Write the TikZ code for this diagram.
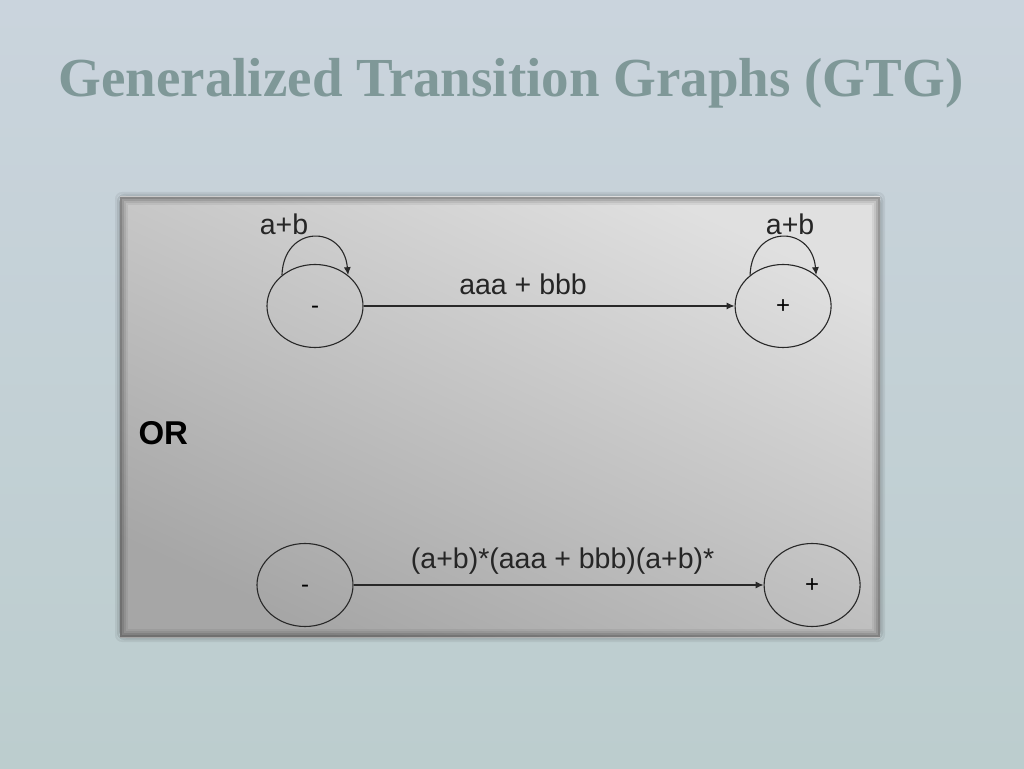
\documentclass[tikz,border=0pt]{standalone}
\usepackage{fontspec}
\setmainfont{Liberation Serif}
\setsansfont{Liberation Sans}
\usetikzlibrary{positioning, shapes.geometric, arrows.meta}
\definecolor{bgtop}{RGB}{202,212,221}
\definecolor{bgbottom}{RGB}{188,205,206}
\definecolor{titlegray}{RGB}{127,152,152}
\definecolor{panellight}{RGB}{224,224,224}
\definecolor{paneldark}{RGB}{166,166,166}
\definecolor{inkgray}{RGB}{40,40,40}
\tikzset{
    statebox/.style={draw=inkgray, line width=1.1pt, ellipse, minimum width=96pt, minimum height=83pt, inner sep=0pt, text height=15pt, text depth=0pt, font=\sffamily\fontsize{24}{26}\selectfont},
    trans/.style={draw=inkgray, line width=1.1pt, -{Latex[length=8pt,width=7pt]}},
    label-text/.style={font=\sffamily\fontsize{28.5}{31}\selectfont, text=black!85, inner sep=2pt},
}

\begin{document}
\begin{tikzpicture}[x=1pt, y=1pt]
    \useasboundingbox (0,0) rectangle (1024,768);
    \shade[top color=bgtop, bottom color=bgbottom] (0,0) rectangle (1024,768);

    % panel with soft rim
    \foreach \d/\o in {-4/0.06, -2/0.12, 0/0.2} {
        \draw[black, opacity=\o, line width=2pt, rounded corners=6pt] (120+\d,131+\d) rectangle (880-\d,571-\d);
    }
    \shade[top color=panellight, bottom color=paneldark, shading angle=-25] (120,131) rectangle (880,571);
    \foreach \d/\o in {1/0.32, 3/0.22, 5/0.13, 7/0.06} {
        \draw[black, opacity=\o, line width=2pt] (120+\d,131+\d) rectangle (880-\d,571-\d);
    }

    \node[font=\bfseries\fontsize{55}{61}\selectfont, text=titlegray, anchor=base] (title) at (511,671) {Generalized Transition Graphs (GTG)};

    \node[statebox] (start-top) at (315,462) {-};
    \node[statebox, right=371pt of start-top] (final-top) {+};
    \node[statebox] (start-bottom) at (305,183) {-};
    \node[statebox, right=410pt of start-bottom] (final-bottom) {+};

    \node[font=\sffamily\bfseries\fontsize{33}{36}\selectfont, anchor=base west] (or-text) at (135,323) {OR};

    \draw[trans] (start-top) -- node[label-text, pos=0.43, above=9pt] {aaa + bbb} (final-top);
    \draw[trans] (start-bottom) -- node[label-text, pos=0.51, above=8pt] {(a+b)*(aaa + bbb)(a+b)*} (final-bottom);

    \draw[trans] (start-top.137) .. controls +(88:51) and +(95:51) .. node[label-text, above=0pt, xshift=-30pt] {a+b} (start-top.43);
    \draw[trans] (final-top.137) .. controls +(88:51) and +(95:51) .. node[label-text, above=0pt, xshift=8pt] {a+b} (final-top.43);
\end{tikzpicture}
\end{document}
